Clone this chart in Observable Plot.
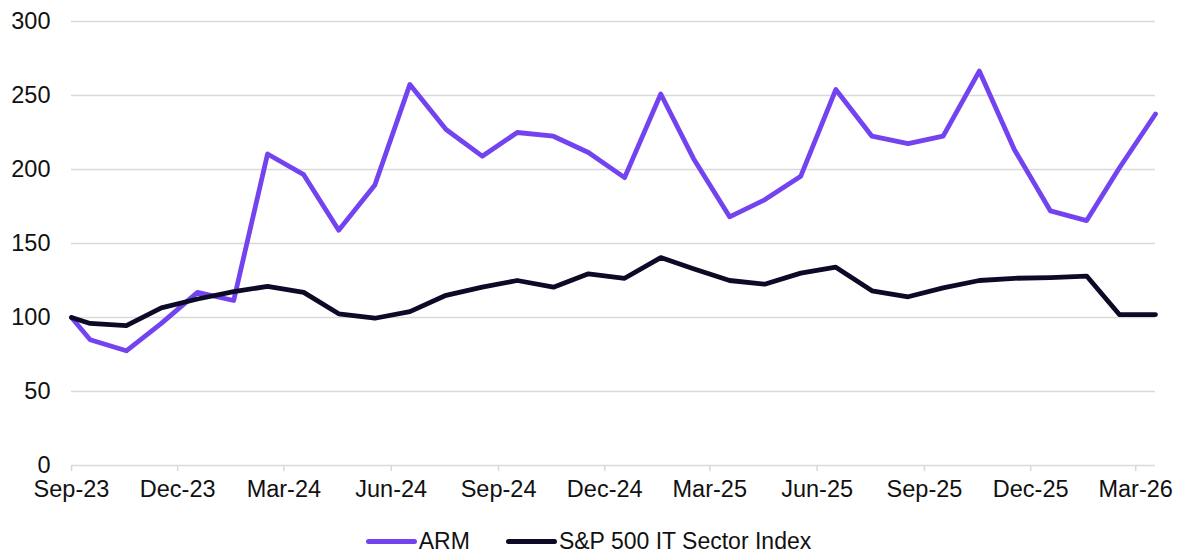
<!DOCTYPE html>
<html>
<head>
<meta charset="utf-8">
<script src="https://cdn.jsdelivr.net/npm/d3@7"></script>
<script src="https://cdn.jsdelivr.net/npm/@observablehq/plot@0.6"></script>
<style>
  html, body { margin: 0; padding: 0; background: #fff; }
  body { width: 1177px; height: 555px; position: relative; font-family: "Liberation Sans", Arial, sans-serif; }
  #chart svg { display: block; }
  #legend { position: absolute; left: 0; width: 1177px; top: 530px; height: 22px; display: flex; justify-content: center; align-items: center; font-size: 23px; line-height: 22px; color: #111; }
  .item { display: flex; align-items: center; margin: 0 18px; }
  .sw { width: 51px; height: 5px; border-radius: 3px; margin-right: 2px; }
</style>
</head>
<body>
<div id="chart"></div>
<div id="legend"></div>
<script>
const dates = ["2023-09-14","2023-09-30","2023-10-31","2023-11-30","2023-12-31","2024-01-31","2024-02-29","2024-03-31","2024-04-30","2024-05-31","2024-06-30","2024-07-31","2024-08-31","2024-09-30","2024-10-31","2024-11-30","2024-12-31","2025-01-31","2025-02-28","2025-03-31","2025-04-30","2025-05-31","2025-06-30","2025-07-31","2025-08-31","2025-09-30","2025-10-31","2025-11-30","2025-12-31","2026-01-31","2026-02-28","2026-03-31"];
const arm = [100,85,77.5,96,117,111.5,210.5,196.5,159,189.5,257.5,227,209,225,222.5,211.5,194.5,251,207.5,168,179.5,195.5,254,222.5,217.5,222.5,266.5,213.5,172,165.5,201,237.5];
const sp  = [100,96,94.5,106.5,112.5,117.5,121,117,102.5,99.5,104,115,120.5,125,120.5,129.5,126.5,140.5,133,125,122.5,130,134,118,114,120,125,126.5,127,128,102,102];
const seriesNames = ["ARM", "S&P 500 IT Sector Index"];
const colors = ["#7443f0", "#0c0a26"];
const yTicks = [0, 50, 100, 150, 200, 250, 300];
const xTickDates = ["2023-09-14","2023-12-14","2024-03-14","2024-06-14","2024-09-14","2024-12-14","2025-03-14","2025-06-14","2025-09-14","2025-12-14","2026-03-14"];

const parse = d3.utcParse("%Y-%m-%d");
const rows = [];
dates.forEach((d, i) => {
  rows.push({date: parse(d), value: arm[i], series: seriesNames[0]});
  rows.push({date: parse(d), value: sp[i], series: seriesNames[1]});
});
const xt = xTickDates.map(parse);

const chart = Plot.plot({
  width: 1177,
  height: 520,
  marginTop: 21,
  marginBottom: 55,
  marginLeft: 71,
  marginRight: 22,
  style: {fontFamily: '"Liberation Sans", Arial, sans-serif', fontSize: "23.5px", color: "#111", background: "#fff"},
  x: {type: "utc", domain: [parse(dates[0]), parse(dates[dates.length - 1])]},
  y: {domain: [0, 300]},
  color: {domain: seriesNames, range: colors},
  marks: [
    Plot.gridY(yTicks.filter(v => v > 0), {stroke: "#d9d9d9", strokeOpacity: 1, strokeWidth: 1.6}),
    Plot.ruleY([0], {stroke: "#d9d9d9", strokeWidth: 1.6}),
    Plot.axisY({ticks: yTicks, tickSize: 0, tickPadding: 21, label: null, fontSize: 23.5}),
    Plot.axisX({ticks: xt, tickFormat: d3.utcFormat("%b-%y"), tickSize: 6, tickPadding: 9, stroke: "#d9d9d9", strokeWidth: 1.6, label: null, fontSize: 23.5}),
    Plot.lineY(rows, {x: "date", y: "value", stroke: "series", strokeWidth: 4.8, strokeLinejoin: "round", strokeLinecap: "round"})
  ]
});
document.getElementById("chart").appendChild(chart);

const legend = document.getElementById("legend");
seriesNames.forEach((n, i) => {
  const it = document.createElement("div");
  it.className = "item";
  const sw = document.createElement("div");
  sw.className = "sw";
  sw.style.background = colors[i];
  const t = document.createElement("span");
  t.textContent = n;
  it.appendChild(sw); it.appendChild(t);
  legend.appendChild(it);
});
</script>
</body>
</html>
